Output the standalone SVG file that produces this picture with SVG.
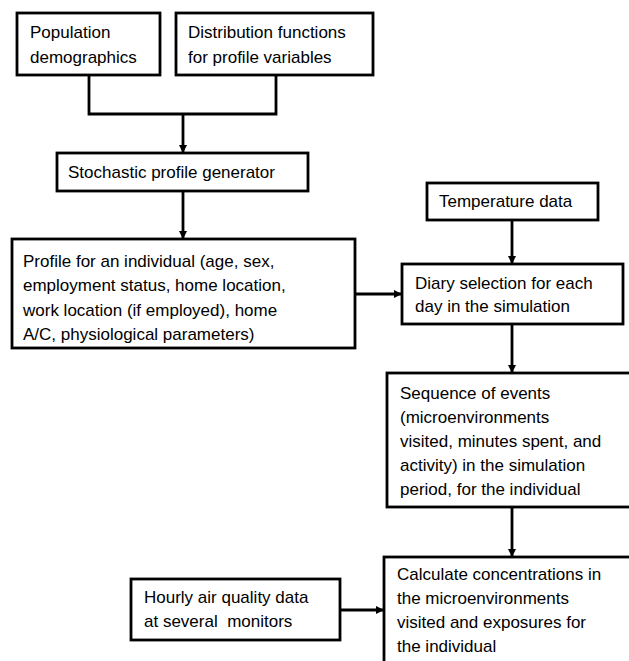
<svg xmlns="http://www.w3.org/2000/svg" width="629" height="661" viewBox="0 0 629 661">
<style>
.box{fill:#fff;stroke:#000;stroke-width:2.8}
.t{font-family:"Liberation Sans",Arial,sans-serif;font-size:17px;fill:#000}
.c{fill:none;stroke:#000;stroke-width:2.8}
</style>
<defs>
<marker id="ah" viewBox="0 0 10 10" refX="10" refY="5" markerWidth="8" markerHeight="8" markerUnits="userSpaceOnUse" orient="auto">
<path d="M0,0 L10,5 L0,10 z" fill="#000"/>
</marker>
</defs>
<rect width="629" height="661" fill="#fff"/>
<g id="connectors">
<path class="c" d="M89,75 V114 H276 V75"/>
<path class="c" d="M183,114 V153" marker-end="url(#ah)"/>
<path class="c" d="M183,191 V239" marker-end="url(#ah)"/>
<path class="c" d="M355,294 H402" marker-end="url(#ah)"/>
<path class="c" d="M512,220 V264" marker-end="url(#ah)"/>
<path class="c" d="M512,324 V373" marker-end="url(#ah)"/>
<path class="c" d="M512,507 V557" marker-end="url(#ah)"/>
<path class="c" d="M340,610 H384" marker-end="url(#ah)"/>
</g>
<g id="population">
<rect class="box" x="17" y="13" width="143" height="62"/>
<text class="t" x="30" y="38">Population</text>
<text class="t" x="30" y="63">demographics</text>
</g>
<g id="distribution">
<rect class="box" x="176" y="13" width="197" height="62"/>
<text class="t" x="188" y="38">Distribution functions</text>
<text class="t" x="188" y="63">for profile variables</text>
</g>
<g id="stochastic">
<rect class="box" x="57" y="153" width="251" height="38"/>
<text class="t" x="68" y="178">Stochastic profile generator</text>
</g>
<g id="profile">
<rect class="box" x="12" y="239" width="343" height="109"/>
<text class="t" x="23" y="267">Profile for an individual (age, sex,</text>
<text class="t" x="23" y="291">employment status, home location,</text>
<text class="t" x="23" y="316">work location (if employed), home</text>
<text class="t" x="23" y="340">A/C, physiological parameters)</text>
</g>
<g id="temperature">
<rect class="box" x="427" y="183" width="171" height="37"/>
<text class="t" x="439" y="207">Temperature data</text>
</g>
<g id="diary">
<rect class="box" x="402" y="264" width="221" height="60"/>
<text class="t" x="415" y="289">Diary selection for each</text>
<text class="t" x="415" y="312">day in the simulation</text>
</g>
<g id="sequence">
<rect class="box" x="387" y="373" width="253" height="134"/>
<text class="t" x="400" y="399">Sequence of events</text>
<text class="t" x="400" y="423">(microenvironments</text>
<text class="t" x="400" y="447">visited, minutes spent, and</text>
<text class="t" x="400" y="471">activity) in the simulation</text>
<text class="t" x="400" y="495">period, for the individual</text>
</g>
<g id="hourly">
<rect class="box" x="131" y="579" width="209" height="61"/>
<text class="t" x="144" y="603">Hourly air quality data</text>
<text class="t" x="144" y="627" xml:space="preserve">at several  monitors</text>
</g>
<g id="calculate">
<rect class="box" x="384" y="557" width="256" height="123"/>
<text class="t" x="397" y="580">Calculate concentrations in</text>
<text class="t" x="397" y="604">the microenvironments</text>
<text class="t" x="397" y="628">visited and exposures for</text>
<text class="t" x="397" y="652">the individual</text>
</g>
</svg>
